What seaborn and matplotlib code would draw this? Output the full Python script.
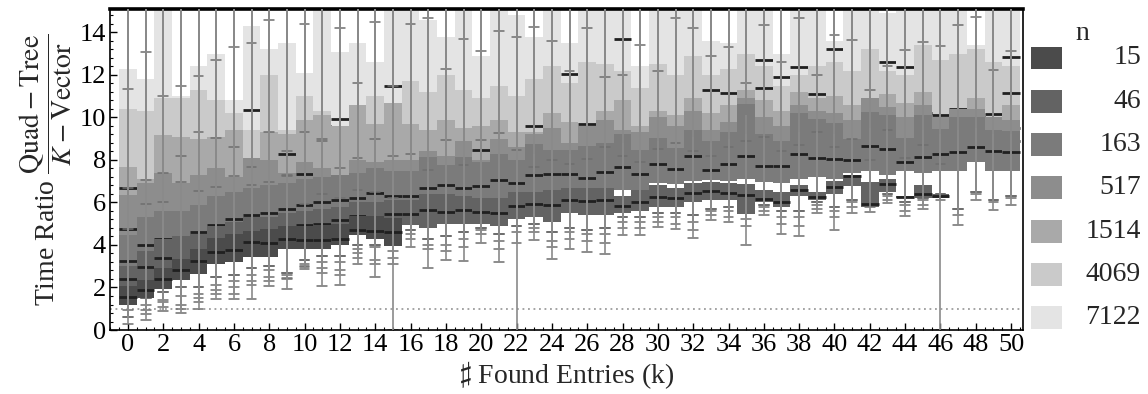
import numpy as np
import pandas as pd
import matplotlib
matplotlib.use("Agg")
import matplotlib.pyplot as plt
from matplotlib.patches import Rectangle
from matplotlib.ticker import MultipleLocator
import seaborn as sns

# ---- data --------------------------------------------------------------
# each box: lower whisker end, lower quartile, median, upper quartile, upper whisker end
n_levels = [15, 46, 163, 517, 1514, 4069, 7122]
colors = ["#4b4b4b", "#636363", "#7b7b7b", "#8d8d8d", "#a9a9a9", "#cacaca", "#e4e4e4"]
WHISKER_TOP = 16.0  # whiskers of the big series run off the top of the frame

# n = 15 (k = 0..15)
med_15 = [1.56, 1.88, 2.39, 2.80, 3.24, 3.68, 3.76, 4.14, 4.10, 4.30, 4.23, 4.23, 4.30, 4.72, 4.66, 4.60]
q1_15 = [1.20, 1.50, 1.95, 2.35, 2.65, 3.10, 3.20, 3.45, 3.45, 3.80, 3.80, 3.80, 4.00, 4.45, 4.30, 3.95]
q3_15 = [2.05, 2.35, 2.90, 3.35, 3.80, 4.35, 4.50, 4.65, 4.75, 4.90, 4.90, 4.95, 5.00, 5.35, 5.35, 5.25]
lo_15 = [0.30, 0.45, 0.90, 0.80, 1.00, 1.45, 1.45, 1.45, 2.05, 1.95, 2.85, 2.05, 2.10, 3.10, 2.50, 0.00]
hi_15 = [4.75, 5.95, 6.00, 6.95, 6.55, 6.75, 7.25, 6.80, 6.95, 7.25, 5.95, 6.40, 6.20, 6.60, 6.50, 6.20]

# n = 46 (k = 0..46)
med_46 = [2.39, 2.97, 3.41, 3.30, 3.60, 4.10, 4.30, 4.50, 4.50, 4.80, 4.93, 5.00, 5.17, 5.37, 5.33, 5.45,
          5.48, 5.66, 5.55, 5.66, 5.55, 5.50, 5.84, 5.95, 5.88, 6.10, 6.07, 6.10, 5.83, 6.00, 6.26, 6.20, 6.44,
          6.54, 6.44, 6.35, 6.18, 6.02, 6.57, 6.26, 6.73, 7.24, 5.91, 6.85, 6.26, 6.38, 6.30]
q1_46 = [1.60, 2.10, 2.60, 2.70, 3.00, 3.40, 3.60, 3.80, 3.90, 4.10, 4.20, 4.30, 4.40, 4.60, 4.60, 4.70,
         4.93, 4.80, 4.98, 5.00, 5.00, 4.90, 5.20, 5.30, 5.10, 5.50, 5.40, 5.40, 5.50, 5.60, 5.80, 5.80, 6.00,
         6.10, 6.10, 5.44, 6.00, 5.80, 6.30, 6.10, 6.40, 6.76, 5.79, 6.50, 6.20, 6.20, 6.20]
q3_46 = [3.00, 3.70, 4.30, 4.40, 4.50, 4.90, 5.10, 5.30, 5.30, 5.50, 5.60, 5.70, 5.80, 6.00, 6.00, 6.10,
         6.10, 6.40, 6.40, 6.30, 6.20, 6.20, 6.50, 6.50, 6.60, 6.70, 6.70, 6.70, 6.30, 6.60, 6.80, 6.70, 6.90,
         6.95, 6.90, 6.88, 6.60, 6.50, 6.80, 6.50, 7.00, 7.30, 6.96, 7.10, 6.30, 6.80, 6.40]
lo_46 = [0.60, 0.75, 1.10, 1.00, 1.30, 1.70, 1.70, 2.10, 2.30, 2.40, 2.95, 2.70, 2.60, 3.40, 3.10, 3.10,
         3.90, 2.94, 3.29, 3.24, 4.07, 3.21, 0.00, 4.23, 3.36, 3.83, 3.68, 3.57, 4.46, 4.46, 4.85, 4.73, 4.31,
         5.16, 5.09, 3.99, 5.40, 4.51, 4.42, 5.51, 4.69, 5.51, 5.55, 5.98, 5.35, 5.71, 0.00]
hi_46 = [6.68, 7.07, 7.40, 8.17, 9.31, 9.04, 8.60, 7.67, 9.30, 7.30, 9.30, 8.90, 7.60, 8.10, 9.00, 8.20,
         8.30, 7.54, 8.92, 7.78, 8.95, 9.26, 8.48, 7.67, 8.02, 7.83, 8.06, 8.60, 8.20, 7.90, 8.50, 8.80, 8.40,
         8.20, 8.60, 8.90, 9.10, 8.40, 8.70, 9.30, 8.60, 9.00, 8.00, 9.40, 8.10, 8.70, 7.80]

# n = 163 (k = 0..50)
med_163 = [3.25, 4.00, 4.30, 4.30, 4.60, 4.96, 5.20, 5.40, 5.50, 5.70, 5.90, 6.00, 6.10, 6.20, 6.46, 6.29,
           6.29, 6.67, 6.81, 6.70, 6.76, 7.04, 6.93, 7.28, 7.35, 7.35, 7.15, 7.42, 7.65, 7.32, 7.81, 7.57, 8.17,
           7.54, 7.79, 8.17, 7.73, 7.70, 8.28, 8.09, 8.06, 8.01, 8.64, 8.53, 7.90, 8.15, 8.26, 8.37, 8.62, 8.43, 8.37]
q1_163 = [2.40, 2.90, 3.30, 3.50, 3.80, 4.10, 4.30, 4.50, 4.60, 4.80, 5.00, 5.10, 5.20, 5.40, 5.50, 5.50,
          5.60, 5.80, 5.90, 5.90, 6.00, 6.10, 6.10, 6.30, 6.40, 6.40, 6.40, 6.50, 6.60, 6.50, 6.90, 6.85, 7.00,
          7.05, 7.00, 7.10, 6.95, 6.90, 7.10, 7.20, 7.10, 7.40, 7.50, 7.30, 7.50, 7.40, 7.50, 7.50, 7.90, 7.50, 7.50]
q3_163 = [4.46, 5.30, 5.60, 5.60, 5.90, 6.30, 6.50, 6.70, 6.80, 6.90, 7.10, 7.20, 7.30, 7.40, 7.60, 7.50,
          7.50, 8.13, 7.75, 8.13, 7.90, 8.30, 8.00, 8.76, 8.48, 8.48, 8.64, 8.80, 9.20, 8.45, 9.04, 8.57, 9.39,
          8.90, 9.30, 10.64, 9.20, 8.88, 10.22, 9.94, 9.73, 8.99, 10.25, 10.13, 9.04, 10.13, 9.47, 10.00, 10.00, 9.42, 9.36]
lo_163 = [0.62, 0.95, 1.30, 1.20, 1.50, 1.90, 2.00, 2.30, 2.50, 2.45, 3.00, 2.90, 2.80, 3.60, 3.30, 3.40,
          4.30, 3.80, 3.70, 3.90, 4.50, 3.80, 4.10, 4.60, 3.90, 4.30, 4.20, 4.10, 4.80, 4.80, 5.10, 5.00, 4.70,
          5.40, 5.30, 4.90, 5.60, 5.00, 4.90, 5.70, 5.30, 5.80, 5.80, 6.10, 5.60, 5.90, 6.10, 4.96, 6.10, 5.63, 5.87]
hi_163 = [11.35, 13.10, 11.00, 11.50, 11.97, 12.70, 13.30, 13.50, 14.60, 8.40, 14.40, 9.00, 14.20, 11.60, 14.50, 11.46,
          14.40, 14.70, 12.30, 13.70, 13.14, 14.05, 13.77, 14.27, 13.60, 12.20, 14.20, 11.90, 12.00, 13.40, 12.20, 14.70, 14.20,
          12.90, 13.30, 11.60, 14.36, 12.60, 14.68, 12.00, 13.90, 13.65, 11.30, 12.40, 13.17, 13.54, 13.38, 14.36, 14.74, 12.24, 13.14]

# n = 517
med_517 = [4.77, 5.00, 5.30, 5.30, 5.60, 5.90, 6.10, 6.30, 6.40, 6.50, 7.36, 6.80, 6.90, 7.00, 7.20, 7.10,
           7.10, 7.70, 7.40, 7.70, 7.50, 7.90, 7.60, 8.30, 8.10, 8.10, 8.20, 8.40, 8.70, 8.00, 8.60, 8.20, 8.90,
           8.50, 8.80, 9.90, 8.80, 8.50, 9.60, 9.40, 9.20, 8.60, 9.70, 9.60, 8.70, 9.60, 9.00, 9.50, 9.50, 9.00, 8.90]
q1_517 = [3.60, 4.20, 4.50, 4.40, 4.80, 5.00, 5.10, 5.40, 5.50, 5.40, 5.50, 5.60, 5.50, 5.80, 6.00, 5.90,
          5.90, 6.20, 6.30, 6.30, 6.30, 6.50, 6.40, 6.70, 6.80, 6.70, 6.80, 6.90, 7.00, 6.90, 7.30, 7.10, 7.40,
          7.20, 7.30, 7.40, 7.20, 7.20, 7.50, 7.50, 7.40, 7.60, 7.80, 7.60, 7.60, 7.70, 7.70, 7.80, 8.00, 7.70, 7.70]
q3_517 = [6.34, 6.90, 7.40, 6.90, 7.30, 7.60, 7.20, 8.10, 8.00, 7.40, 7.90, 7.60, 7.10, 8.00, 7.90, 8.00,
          8.00, 8.40, 8.20, 8.90, 8.00, 9.00, 8.60, 9.20, 9.50, 8.80, 9.60, 9.90, 9.40, 9.30, 10.00, 9.60, 10.30,
          9.40, 9.80, 10.90, 10.00, 9.60, 10.60, 10.30, 10.20, 9.90, 10.90, 10.50, 10.00, 10.60, 10.00, 10.40, 10.40, 10.00, 9.90]
lo_517 = [0.95, 1.20, 1.40, 1.60, 1.70, 2.10, 2.30, 2.60, 2.80, 2.60, 3.10, 3.20, 3.20, 3.80, 3.90, 3.70,
          4.50, 4.00, 4.00, 4.30, 4.70, 4.20, 4.60, 4.80, 4.20, 4.60, 4.50, 4.50, 5.10, 5.10, 5.30, 5.30, 5.10,
          5.60, 5.60, 5.20, 5.80, 5.30, 5.30, 5.90, 5.60, 6.00, 6.00, 6.30, 5.90, 6.10, 6.30, 5.40, 6.40, 6.00, 6.20]

# n = 1514
med_1514 = [6.68, 6.50, 7.00, 6.60, 7.00, 7.20, 6.90, 7.70, 7.60, 8.30, 7.50, 7.30, 6.80, 7.60, 7.50, 7.60,
            7.60, 8.00, 7.80, 8.40, 8.48, 8.60, 8.20, 8.80, 9.10, 8.40, 9.20, 9.40, 9.00, 8.90, 9.60, 9.20, 9.90,
            9.00, 9.40, 10.40, 9.60, 9.20, 10.20, 9.90, 9.80, 9.50, 10.40, 10.10, 9.60, 10.20, 9.60, 10.00, 10.00, 9.60, 9.50]
q1_1514 = [4.80, 5.20, 5.80, 5.60, 6.00, 6.20, 6.20, 6.50, 6.60, 6.60, 6.50, 6.70, 6.50, 7.00, 7.00, 7.10,
           7.00, 7.20, 7.30, 7.40, 7.30, 7.50, 7.50, 7.80, 8.00, 7.80, 8.10, 8.20, 8.30, 8.00, 8.40, 8.30, 8.60,
           8.20, 8.40, 8.70, 8.50, 8.40, 8.80, 8.70, 8.70, 8.60, 9.00, 8.90, 8.60, 8.90, 8.70, 8.90, 9.00, 8.70, 8.70]
q3_1514 = [7.67, 7.10, 9.16, 9.10, 9.00, 9.10, 9.40, 8.10, 9.30, 9.20, 9.90, 10.10, 9.60, 10.60, 9.70, 10.70,
           9.70, 9.40, 9.90, 9.50, 9.60, 9.90, 9.30, 9.30, 10.20, 9.80, 9.40, 10.30, 10.80, 9.60, 10.30, 10.10, 10.90,
           10.20, 10.60, 11.30, 10.80, 10.30, 11.20, 10.90, 11.00, 10.60, 10.50, 11.10, 10.70, 11.20, 9.80, 10.00, 10.90, 9.90, 10.60]
lo_1514 = [1.40, 1.50, 1.80, 2.00, 2.00, 2.50, 2.60, 2.90, 3.00, 2.70, 3.30, 3.50, 3.50, 4.00, 4.00, 4.00,
           4.70, 4.30, 4.40, 4.60, 4.80, 4.50, 4.90, 5.00, 4.60, 4.80, 4.70, 4.80, 5.30, 5.30, 5.50, 5.50, 5.40,
           5.70, 5.80, 5.60, 5.90, 5.60, 5.60, 6.00, 5.80, 6.10, 6.20, 6.40, 6.00, 6.20, 6.40, 5.70, 6.50, 6.10, 6.30]

# n = 4069
med_4069 = [7.30, 6.80, 8.70, 8.60, 8.60, 8.70, 8.90, 7.70, 8.90, 8.80, 9.40, 9.60, 9.00, 10.00, 9.20, 10.20,
            9.20, 9.00, 9.40, 9.00, 9.20, 9.40, 8.90, 9.62, 9.70, 9.30, 9.70, 9.80, 10.30, 9.20, 9.80, 9.60, 10.40,
            11.27, 11.16, 10.80, 11.38, 9.90, 10.70, 11.10, 10.50, 10.20, 10.88, 10.60, 10.30, 10.70, 10.10, 10.40, 10.50, 10.17, 11.16]
q1_4069 = [6.00, 6.20, 6.80, 6.60, 7.00, 7.00, 7.10, 7.00, 7.40, 7.20, 7.30, 7.50, 7.40, 7.80, 7.80, 7.90,
           7.90, 7.90, 8.10, 8.00, 8.00, 8.20, 8.10, 8.30, 8.60, 8.30, 8.60, 8.70, 8.80, 8.50, 8.90, 8.70, 9.10,
           8.80, 9.00, 9.20, 9.00, 8.90, 9.30, 9.10, 9.20, 9.00, 9.50, 9.30, 9.10, 9.40, 9.20, 9.40, 9.50, 9.20, 9.20]
q3_4069 = [10.40, 10.30, 10.90, 10.90, 11.30, 10.80, 10.20, 9.40, 12.00, 9.40, 11.00, 10.30, 9.50, 10.60, 11.00, 10.70,
           11.70, 11.20, 12.00, 11.30, 10.90, 11.50, 11.00, 11.80, 12.40, 11.60, 12.60, 12.50, 12.20, 11.40, 12.50, 12.00, 12.90,
           12.00, 12.30, 13.00, 12.40, 11.50, 12.00, 12.40, 12.60, 12.20, 13.20, 12.20, 12.00, 13.40, 12.70, 13.00, 13.20, 12.60, 12.40]

# n = 7122
med_7122 = [9.50, 9.60, 10.00, 9.80, 10.20, 10.10, 9.60, 10.36, 10.60, 9.00, 10.20, 9.80, 9.94, 10.00, 10.40, 11.46,
            11.00, 10.80, 11.30, 10.80, 10.50, 11.00, 10.60, 11.20, 11.60, 12.05, 11.90, 11.90, 13.70, 11.00, 12.00, 11.60, 12.20,
            11.60, 11.80, 12.40, 12.70, 11.89, 12.36, 11.90, 13.20, 11.80, 12.60, 12.63, 12.36, 12.80, 12.20, 12.50, 12.70, 12.10, 12.86]
q1_7122 = [7.20, 7.50, 7.90, 7.60, 8.00, 8.00, 7.90, 8.30, 8.40, 8.20, 8.30, 8.50, 8.30, 8.70, 8.70, 8.80,
           8.80, 8.80, 9.00, 8.90, 8.90, 9.10, 9.00, 9.20, 9.50, 9.20, 9.50, 9.60, 9.70, 9.40, 9.80, 9.60, 10.00,
           9.70, 9.90, 10.10, 9.90, 9.80, 10.20, 10.00, 10.10, 9.90, 10.40, 10.20, 10.00, 10.30, 10.10, 10.30, 10.40, 10.10, 10.10]
q3_7122 = [12.30, 11.80, 15.50, 11.00, 12.40, 13.00, 10.80, 14.30, 13.20, 13.50, 12.10, 15.50, 13.10, 13.50, 12.60, 15.50,
           15.50, 14.60, 13.80, 15.50, 12.90, 15.50, 14.80, 13.80, 15.50, 13.50, 15.50, 15.50, 15.50, 12.40, 15.50, 15.50, 15.50,
           13.60, 13.50, 15.50, 15.50, 13.00, 15.50, 15.50, 13.60, 15.50, 15.50, 14.90, 15.50, 15.50, 15.50, 15.50, 13.40, 15.50, 15.50]

series = {
    15: (lo_15, q1_15, med_15, q3_15, hi_15),
    46: (lo_46, q1_46, med_46, q3_46, hi_46),
    163: (lo_163, q1_163, med_163, q3_163, hi_163),
    517: (lo_517, q1_517, med_517, q3_517, WHISKER_TOP),
    1514: (lo_1514, q1_1514, med_1514, q3_1514, WHISKER_TOP),
    4069: (lo_1514, q1_4069, med_4069, q3_4069, WHISKER_TOP),
    7122: (lo_1514, q1_7122, med_7122, q3_7122, WHISKER_TOP),
}


def build_frame():
    # five values per box -> seaborn's quartiles land exactly on q1/median/q3
    rows = []
    for n, (lo, q1, med, q3, hi) in series.items():
        for k in range(len(med)):
            top = hi[k] if isinstance(hi, list) else hi
            for v in (lo[k], q1[k], med[k], q3[k], top):
                rows.append({"k": k, "n": str(n), "ratio": v})
    return pd.DataFrame(rows)


def main():
    df = build_frame()

    sns.set_theme(style="ticks")
    plt.rcParams["font.family"] = ["Liberation Serif", "DejaVu Serif"]
    plt.rcParams["mathtext.fontset"] = "stix"

    fig = plt.figure(figsize=(11.48, 3.94), dpi=100)
    ax = fig.add_axes([0.0958, 0.1624, 0.7951, 0.8147])

    palette = {str(n): c for n, c in zip(n_levels, colors)}
    sns.boxplot(data=df, x="k", y="ratio", hue="n", order=list(range(51)),
                hue_order=[str(n) for n in n_levels[::-1]], palette=palette,
                dodge=False, width=1.0, whis=(0, 100), saturation=1, fliersize=0,
                legend=False, ax=ax, capwidths=0.55,
                boxprops=dict(linewidth=0),
                whiskerprops=dict(color="#8a8a8a", linewidth=1.2),
                capprops=dict(color="#6e6e6e", linewidth=1.1),
                medianprops=dict(color="#202020", linewidth=2.0))

    # whiskers over every box, medians/caps keep the drawing order
    for line in ax.lines:
        xd = np.asarray(line.get_xdata(), dtype=float)
        if len(xd) == 2 and np.isclose(xd[0], xd[1]):
            line.set_zorder(3)
        else:
            line.set_zorder(2)

    ax.axhline(1.0, color="#8c8c8c", lw=1.1, ls=(0, (1.2, 2.4)), zorder=1.5)

    ax.set_xlim(-1.02, 50.66)
    ax.set_ylim(0, 15.1)
    ax.set_xticks(range(0, 51, 2))
    ax.set_xticklabels([str(k) for k in range(0, 51, 2)])
    ax.xaxis.set_minor_locator(MultipleLocator(0.5))
    ax.set_yticks(range(0, 15, 2))
    ax.yaxis.set_minor_locator(MultipleLocator(0.4))
    ax.tick_params(which="both", direction="in", top=False, right=False, colors="black")
    ax.tick_params(which="major", length=5, width=1, labelsize=19, pad=3)
    ax.tick_params(which="minor", length=2.5, width=0.8)

    for s in ax.spines.values():
        s.set_visible(True)
        s.set_color("black")
        s.set_linewidth(1.2)
    ax.spines["top"].set_linewidth(2.6)

    ax.set_ylabel(r"Time Ratio $\dfrac{\mathrm{Quad-Tree}}{K-\mathrm{Vector}}$", fontsize=20, labelpad=4)
    ax.set_xlabel(r"$\sharp$ Found Entries (k)", fontsize=20, labelpad=2)

    # legend drawn by hand: swatch left, number right-aligned
    fig.text(0.943, 0.916, "n", fontsize=20, ha="center", va="center")
    for i, (n, c) in enumerate(zip(n_levels, colors)):
        yc = 1 - (58 + 43.3 * i) / 394
        fig.add_artist(Rectangle((0.898, yc - 0.029), 0.027, 0.058, transform=fig.transFigure,
                                 facecolor=c, edgecolor="none"))
        fig.text(0.994, yc, str(n), fontsize=20, ha="right", va="center")

    fig.savefig("out.png", dpi=100)


if __name__ == "__main__":
    main()
